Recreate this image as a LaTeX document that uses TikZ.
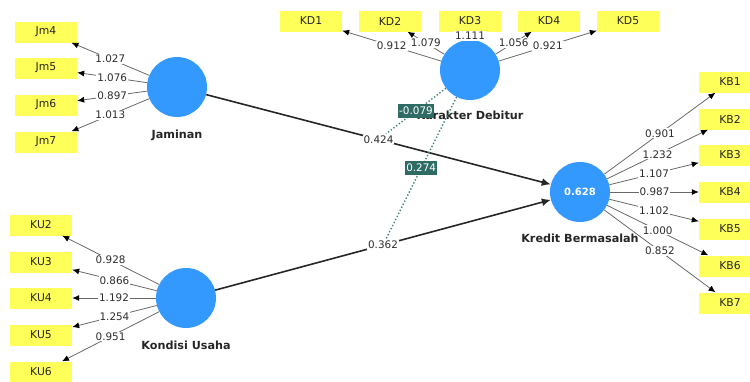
\documentclass[tikz,border=0pt]{standalone}
\usepackage{fontspec}
\setmainfont{DejaVu Sans}
\usetikzlibrary{arrows.meta}
\definecolor{cblue}{RGB}{51,153,255}
\definecolor{ybox}{RGB}{255,255,90}
\definecolor{tealbox}{RGB}{47,107,101}
\definecolor{tealdot}{RGB}{70,130,130}
\definecolor{lgray}{RGB}{105,105,105}
\definecolor{tgray}{RGB}{45,45,45}
\begin{document}
\begin{tikzpicture}[x=1pt,y=-1pt,
  ind/.style={fill=ybox, minimum width=62pt, minimum height=21pt, inner sep=0pt, font=\fontsize{10.8}{12}\selectfont, text=black!85},
  con/.style={circle, fill=cblue, minimum size=60pt, inner sep=0pt},
  conlab/.style={font=\bfseries\fontsize{11.2}{13}\selectfont, text=black!85},
  load/.style={draw=lgray, line width=0.8pt, -{Latex[length=7pt,width=6pt,color=black]}},
  lab/.style={fill=white, inner sep=1pt, font=\fontsize{10.4}{12}\selectfont, text=tgray},
  struct/.style={draw=black!85, line width=1.6pt, -{Latex[length=9pt,width=8pt]}},
  mod/.style={draw=tealdot, dotted, line width=1.4pt},
  modlab/.style={fill=tealbox, text=white, inner xsep=1pt, inner ysep=3pt, font=\fontsize{10.4}{12}\selectfont}
]
\useasboundingbox (0,0) rectangle (750,381);
\clip (0,0) rectangle (750,381);

% indicator boxes
\foreach \n/\y in {4/32,5/68,6/105,7/142}
  \node[ind] (Jm\n) at (46,\y) {Jm\n};
\foreach \n/\x in {1/311,2/390,3/470,4/549,5/628}
  \node[ind] (KD\n) at (\x,21) {KD\n};
\foreach \n/\y in {2/225,3/262,4/298,5/335,6/372}
  \node[ind] (KU\n) at (41,\y) {KU\n};
\foreach \n/\y in {1/82,2/119,3/155,4/192,5/229,6/266,7/303}
  \node[ind] (KB\n) at (730,\y) {KB\n};

% constructs
\node[con] (J) at (177,87) {};
\node[con] (K) at (470,70) {};
\node[con] (U) at (186,298) {};
\node[con, font=\bfseries\fontsize{10}{12}\selectfont, text=white] (B) at (580,192) {0.628};

% loadings
\foreach \n/\v in {4/1.027,5/1.076,6/0.897,7/1.013}
  \draw[load] (J) -- (Jm\n) node[lab, midway] (lJm\n) {\v};
\foreach \n/\v in {1/0.912,2/1.079,3/1.111,4/1.056,5/0.921}
  \draw[load] (K) -- (KD\n) node[lab, midway] (lKD\n) {\v};
\foreach \n/\v in {2/0.928,3/0.866,4/1.192,5/1.254,6/0.951}
  \draw[load] (U) -- (KU\n) node[lab, midway] (lKU\n) {\v};
\foreach \n/\v in {1/0.901,2/1.232,3/1.107,4/0.987,5/1.102,6/1.000,7/0.852}
  \draw[load] (B) -- (KB\n) node[lab, midway] (lKB\n) {\v};

% structural paths
\draw[struct] (J) -- (B) node[lab, midway] (l424) {0.424};
\draw[struct] (U) -- (B) node[lab, midway] (l362) {0.362};

% construct labels
\node[conlab] (Jlab) at (177,135) {Jaminan};
\node[conlab] (Klab) at (470,115) {Karakter Debitur};
\node[conlab] (Ulab) at (186,345) {Kondisi Usaha};
\node[conlab] (Blab) at (580,238) {Kredit Bermasalah};

% moderating effects
\draw[mod] (K) -- (l424) node[modlab, midway] (m079) {-0.079};
\draw[mod] (K) -- (l362) node[modlab, midway] (m274) {0.274};
\end{tikzpicture}
\end{document}
